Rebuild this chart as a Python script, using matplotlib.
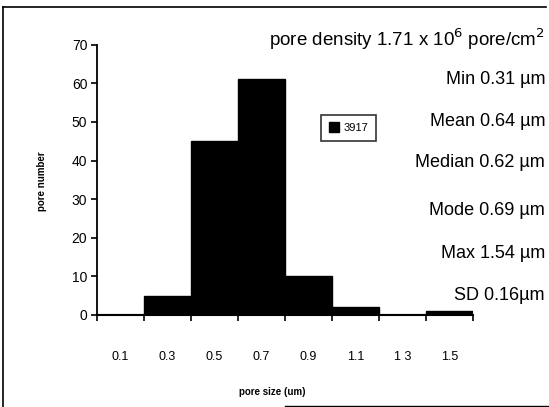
import numpy as np
import matplotlib.pyplot as plt
from matplotlib.lines import Line2D

plt.rcParams['font.family'] = ['Liberation Sans', 'DejaVu Sans']

bins = ['0.1', '0.3', '0.5', '0.7', '0.9', '1.1', '1 3', '1.5']
counts = [0, 5, 45, 61, 10, 2, 0, 1]
stats = ['Min 0.31 \u00b5m', 'Mean 0.64 \u00b5m', 'Median 0.62 \u00b5m',
         'Mode 0.69 \u00b5m', 'Max 1.54 \u00b5m', 'SD 0.16\u00b5m']
stat_y = [80, 121, 162, 210, 254, 295]

W, H = 549, 407
fig = plt.figure(figsize=(W / 100, H / 100), dpi=100)
ax = fig.add_axes([97 / W, 1 - 315 / H, (473 - 97) / W, (315 - 44.7) / H])

x = np.arange(len(bins))
ax.bar(x, counts, width=1.0, color='black', edgecolor='black', linewidth=1, label='3917')
ax.plot([-0.5, 0.5], [0, 0], color='black', lw=1.5)
ax.plot([5.5, 6.5], [0, 0], color='black', lw=1.5)

ax.set_xlim(-0.5, 7.5)
ax.set_ylim(0, 70)
ax.set_yticks(range(0, 71, 10))
ax.set_xticks(np.arange(-0.5, 8, 1))
ax.set_xticklabels([])
ax.set_xticks(x, minor=True)
ax.set_xticklabels(bins, minor=True)
ax.tick_params(axis='x', which='minor', length=0, pad=26, labelsize=9)
ax.tick_params(axis='x', which='major', length=4, width=1.2, direction='out')
ax.tick_params(axis='y', length=4, width=1.2, direction='out', labelsize=10, pad=3)
for s in ['top', 'right']:
    ax.spines[s].set_visible(False)
ax.spines['left'].set_linewidth(1.3)
ax.spines['bottom'].set_linewidth(1.5)

fig.text(272 / W, 1 - 392 / H, 'pore size (um)', ha='center', va='center',
         fontsize=7, fontweight='bold')
fig.text(42 / W, 1 - 181 / H, 'pore number', ha='center', va='center',
         rotation=90, fontsize=7, fontweight='bold')

fig.text(545 / W, 1 - 39 / H, 'pore density 1.71 x 10$^6$ pore/cm$^2$',
         ha='right', va='center', fontsize=13.5)
for s, yy in zip(stats, stat_y):
    fig.text(545 / W, 1 - yy / H, s, ha='right', va='center', fontsize=13)

leg = fig.legend(loc='center', bbox_to_anchor=(348.5 / W, 1 - 127.5 / H),
                 fontsize=8, frameon=True, fancybox=False, handlelength=0.9,
                 handleheight=0.9, handletextpad=0.4, borderpad=0.7)
leg.get_frame().set_edgecolor('black')
leg.get_frame().set_linewidth(1.2)

fig.add_artist(Line2D([3 / W, 546 / W], [1 - 7 / H, 1 - 7 / H], color='black', lw=1.2))
fig.add_artist(Line2D([3 / W, 3 / W], [1 - 7 / H, 0], color='black', lw=1.2))
fig.add_artist(Line2D([285 / W, 549 / W], [1 - 406 / H, 1 - 406 / H], color='black', lw=1))

fig.savefig('out.png', dpi=100)
